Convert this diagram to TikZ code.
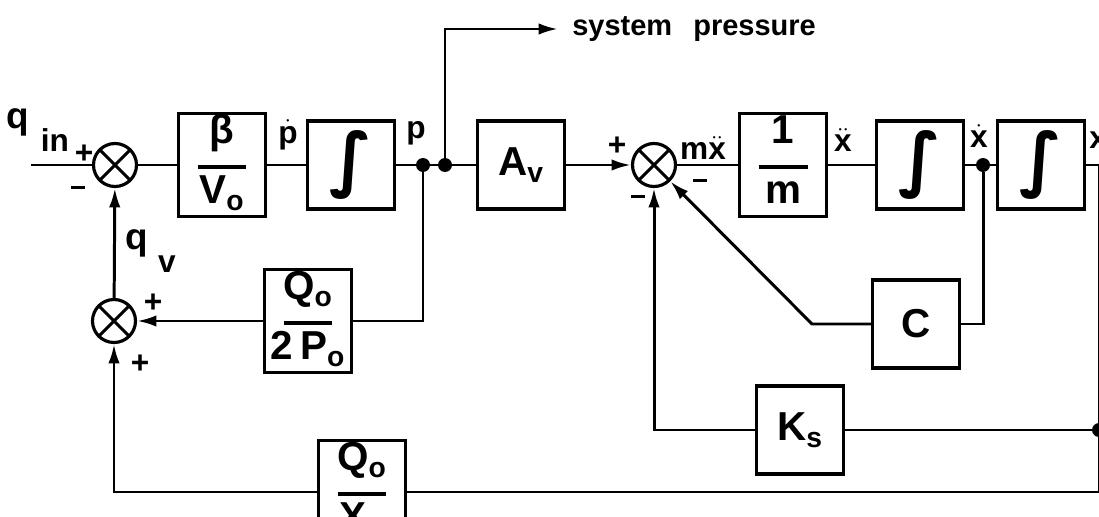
\documentclass[tikz,border=0pt]{standalone}
\usepackage{fontspec}
\usepackage{graphicx}
\setmainfont{Liberation Sans}
\newfontfamily\intfont{DejaVu Sans}
\usetikzlibrary{arrows.meta}
\newcommand{\blkfrac}[2]{\begin{tabular}{@{}c@{}}#1\\[-11pt]\rule{0.98cm}{1.8pt}\\[-5pt]#2\end{tabular}}
\newcommand{\integ}{{\intfont\fontsize{40}{40}\selectfont\bfseries ∫}}
\newcommand{\mns}{\rule[0.3ex]{8pt}{2pt}}
\tikzset{
	blk/.style={draw, line width=1.8pt, minimum width=1.74cm, minimum height=1.76cm, inner sep=0pt, font=\fontsize{23}{25}\selectfont\bfseries},
	summ/.style={draw, circle, line width=1.8pt, minimum size=0.86cm, inner sep=0pt,
		path picture={\draw[line width=1.8pt] (path picture bounding box.north west) -- (path picture bounding box.south east) (path picture bounding box.north east) -- (path picture bounding box.south west);}},
	sig/.style={line width=1.7pt},
	arr/.style={sig, -{Latex[length=11pt,width=6.5pt]}},
	lbl/.style={font=\fontsize{18}{20}\selectfont\bfseries, inner sep=0pt},
	jdot/.style={circle, fill, minimum size=0.28cm, inner sep=0pt}
}
\begin{document}
\begin{tikzpicture}[x=0.02cm,y=-0.02cm]
	\def\yM{165};
	\def\yQ{321};
	\def\yC{324};
	\def\yK{430};
	\def\yB{492};
	\def\xR{1099};
	\useasboundingbox[fill=white] (0,0) rectangle (1099,517);
	\clip (0,0) rectangle (1099,517);
	\node[summ] (s1) at (115,\yM) {};
	\node[blk] (bv) at (222,\yM) {\blkfrac{β}{V\textsubscript{o}}};
	\node[blk] (i1) at (351,\yM) {\integ};
	\node[jdot] (dp) at (423,\yM) {};
	\node[jdot] (ds) at (445,\yM) {};
	\node[blk] (av) at (521,\yM) {A\textsubscript{v}};
	\node[summ] (s2) at (654,\yM) {};
	\node[blk] (im) at (783,\yM) {\blkfrac{1}{m}};
	\node[blk] (i2) at (920,\yM) {\integ};
	\node[jdot] (dxd) at (983,\yM) {};
	\node[blk] (i3) at (1041,\yM) {\integ};
	\node[summ] (s3) at (114,\yQ) {};
	\node[blk] (qp) at (308,\yQ) {\blkfrac{Q\textsubscript{o}}{2\,P\textsubscript{o}}};
	\node[blk] (c) at (916,\yC) {C};
	\node[blk] (ks) at (800,\yK) {K\textsubscript{s}};
	\node[jdot] (dx) at (\xR,\yK) {};
	\node[blk] (qx) at (362,\yB) {\blkfrac{Q\textsubscript{o}}{X\textsubscript{o}}};
	\node[lbl, font=\fontsize{16.5}{18}\selectfont\bfseries, anchor=west, inner xsep=0.28cm] (spn) at (558,29) {system\hspace{12pt}pressure};
	\coordinate (qin) at (31,\yM);
	\coordinate (xo) at (\xR,\yM);
	\coordinate (xb) at (\xR,\yB);
	\coordinate (qxl) at (114,\yB);
	\coordinate (cl) at (812,\yC);
	\draw[sig] (qin) -- (s1) -- (bv) -- (i1) -- (dp) -- (ds) -- (av);
	\draw[arr] (av) -- (s2);
	\draw[sig] (s2) -- (im) -- (i2) -- (dxd) -- (i3);
	\draw[sig] (i3) -- (xo) -- (dx) -- (xb) -- (qx);
	\draw[arr] (qx) -- (qxl) -- (s3);
	\draw[arr] (s3) -- (s1);
	\draw[sig] (dp) |- (qp);
	\draw[arr] (qp) -- (s3);
	\draw[arr] (ds) |- (spn);
	\draw[sig] (dxd) |- (c);
	\draw[arr] (c) -- (cl) -- (s2);
	\draw[sig] (dx) -- (ks);
	\draw[arr] (ks) -| (s2);
	\node[lbl, font=\fontsize{21}{22}\selectfont\bfseries] (lq) at (18,122) {q};
	\node[lbl] (lin) at (55,140) {in};
	\node[lbl] (lp1) at (84,154) {+};
	\node[lbl] (lm1) at (78,190) {\mns};
	\node[lbl] (lpd) at (288,135) {$\dot{\mathbf{p}}$};
	\node[lbl] (lpp) at (416,133) {p};
	\node[lbl] (lp2) at (617,146) {+};
	\node[lbl] (lmx) at (703,148) {m$\ddot{\mathbf{x}}$};
	\node[lbl] (lm2) at (700,183) {\mns};
	\node[lbl] (lm3) at (638,199) {\mns};
	\node[lbl] (lxdd) at (843,140) {$\ddot{\mathbf{x}}$};
	\node[lbl] (lxd) at (979,136) {$\dot{\mathbf{x}}$};
	\node[lbl, anchor=west] (lx) at (1089,140) {x};
	\node[lbl, font=\fontsize{21}{22}\selectfont\bfseries] (lqv) at (137,243) {q};
	\node[lbl] (lv) at (167,264) {v};
	\node[lbl] (lp3) at (153,303) {+};
	\node[lbl] (lp4) at (140,364) {+};
\end{tikzpicture}
\end{document}
